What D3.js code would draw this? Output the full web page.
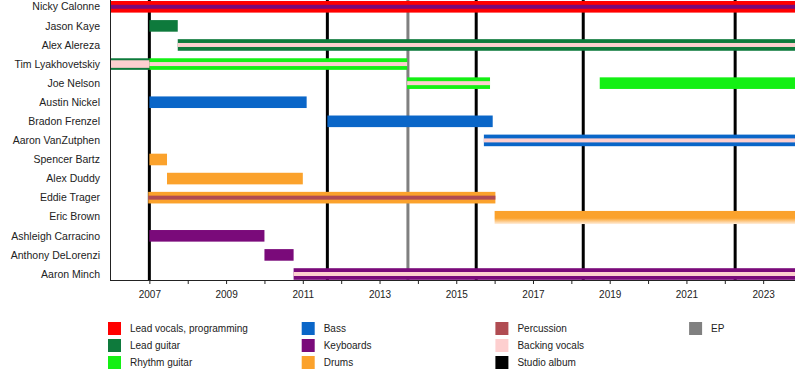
<!DOCTYPE html>
<html>
<head>
<meta charset="utf-8">
<script src="https://cdn.jsdelivr.net/npm/d3@7"></script>
<style>
  body { margin: 0; background: #fff; }
  svg text { font-family: "Liberation Sans", Arial, sans-serif; font-size: 10px; fill: #222; }
  svg .member { font-size: 10.5px; }
</style>
</head>
<body>
<svg id="timeline" width="800" height="390"></svg>
<script>
// members, top to bottom
const members = ["Nicky Calonne", "Jason Kaye", "Alex Alereza", "Tim Lyakhovetskiy", "Joe Nelson",
  "Austin Nickel", "Bradon Frenzel", "Aaron VanZutphen", "Spencer Bartz", "Alex Duddy",
  "Eddie Trager", "Eric Brown", "Ashleigh Carracino", "Anthony DeLorenzi", "Aaron Minch"];

const roles = ["Lead vocals, programming", "Lead guitar", "Rhythm guitar", "Bass", "Keyboards",
  "Drums", "Percussion", "Backing vocals", "Studio album", "EP"];
const roleColors = ["#ff0000", "#0e7a3c", "#14f014", "#0a66c8", "#7a0a7a",
  "#fba22c", "#b04c52", "#fdcfcf", "#000000", "#808080"];

const startYear = 2006, endYear = 2023.83;

// main bars: [member, role, from, to]
const mainBars = [
  ["Nicky Calonne", "Lead vocals, programming", 2006, 2023.83],
  ["Jason Kaye", "Lead guitar", 2007.0, 2007.74],
  ["Alex Alereza", "Lead guitar", 2007.74, 2023.83],
  ["Tim Lyakhovetskiy", "Lead guitar", 2006, 2007.0],
  ["Tim Lyakhovetskiy", "Rhythm guitar", 2007.0, 2013.72],
  ["Joe Nelson", "Rhythm guitar", 2013.72, 2015.88],
  ["Joe Nelson", "Rhythm guitar", 2018.74, 2023.83],
  ["Austin Nickel", "Bass", 2007.0, 2011.1],
  ["Bradon Frenzel", "Bass", 2011.64, 2015.95],
  ["Aaron VanZutphen", "Bass", 2015.72, 2023.83],
  ["Spencer Bartz", "Drums", 2007.0, 2007.46],
  ["Alex Duddy", "Drums", 2007.46, 2011.0],
  ["Eddie Trager", "Drums", 2006.97, 2016.02],
  ["Eric Brown", "Drums", 2016.0, 2023.83],
  ["Ashleigh Carracino", "Keyboards", 2007.0, 2010.0],
  ["Anthony DeLorenzi", "Keyboards", 2010.0, 2010.76],
  ["Aaron Minch", "Keyboards", 2010.76, 2023.83]
];

// secondary roles drawn as a stripe inside the bar
const stripeBars = [
  ["Nicky Calonne", "Keyboards", 2006, 2023.83],
  ["Alex Alereza", "Backing vocals", 2007.74, 2023.83],
  ["Tim Lyakhovetskiy", "Backing vocals", 2007.0, 2013.72],
  ["Joe Nelson", "Backing vocals", 2013.72, 2015.88],
  ["Aaron VanZutphen", "Backing vocals", 2015.72, 2023.83],
  ["Eddie Trager", "Percussion", 2006.97, 2016.02],
  ["Aaron Minch", "Backing vocals", 2010.76, 2023.83]
];

// secondary roles drawn filling most of the bar
const wideStripeBars = [
  ["Tim Lyakhovetskiy", "Backing vocals", 2006, 2007.0]
];

const studioAlbums = [2007.0, 2011.64, 2015.52, 2018.31, 2022.27];
const eps = [2013.74];

const tickYears = d3.range(2007, 2024);
const labelYears = [2007, 2009, 2011, 2013, 2015, 2017, 2019, 2021, 2023];

// ---- layout ----
const plot = { left: 111, right: 795, top: 0, bottom: 280 };
const barH = 11.6;

const svg = d3.select("#timeline");
const color = d3.scaleOrdinal().domain(roles).range(roleColors);

const x = d3.scaleLinear()
  .domain([startYear, endYear])
  .range([plot.left, plot.right]);

const y = d3.scalePoint()
  .domain(members)
  .range([6.8, 274]);

const defs = svg.append("defs");
const fade = defs.append("linearGradient")
  .attr("id", "fade").attr("x1", 0).attr("x2", 0).attr("y1", 0).attr("y2", 1);
fade.append("stop").attr("offset", "0.55").attr("stop-color", color("Drums"));
fade.append("stop").attr("offset", "1").attr("stop-color", "#ffeedd");

// release lines (behind bars)
svg.append("g").selectAll("line")
  .data(studioAlbums.map(v => ["Studio album", v]).concat(eps.map(v => ["EP", v])))
  .join("line")
  .attr("x1", d => x(d[1]))
  .attr("x2", d => x(d[1]))
  .attr("y1", plot.top)
  .attr("y2", plot.bottom)
  .attr("stroke", d => color(d[0]))
  .attr("stroke-width", 3);

// main bars
svg.append("g").selectAll("rect")
  .data(mainBars)
  .join("rect")
  .attr("x", d => x(d[2]))
  .attr("width", d => x(d[3]) - x(d[2]))
  .attr("y", d => y(d[0]) - barH / 2)
  .attr("height", d => d[0] === "Eric Brown" ? barH + 1.5 : barH)
  .attr("fill", d => d[0] === "Eric Brown" ? "url(#fade)" : color(d[1]));

svg.append("g").selectAll("rect")
  .data(wideStripeBars)
  .join("rect")
  .attr("x", d => x(d[2]))
  .attr("width", d => x(d[3]) - x(d[2]))
  .attr("y", d => y(d[0]) - barH / 2 + 2)
  .attr("height", barH - 4)
  .attr("fill", d => color(d[1]));

svg.append("g").selectAll("rect")
  .data(stripeBars)
  .join("rect")
  .attr("x", d => x(d[2]))
  .attr("width", d => x(d[3]) - x(d[2]))
  .attr("y", d => y(d[0]) - 2)
  .attr("height", 4)
  .attr("fill", d => color(d[1]));

// y axis line + member names
svg.append("line")
  .attr("x1", plot.left - 0.5).attr("x2", plot.left - 0.5)
  .attr("y1", plot.top).attr("y2", plot.bottom)
  .attr("stroke", "#222");

svg.append("g").selectAll("text")
  .data(members)
  .join("text")
  .attr("class", "member")
  .attr("x", 100)
  .attr("y", d => y(d))
  .attr("dy", "0.35em")
  .attr("text-anchor", "end")
  .text(d => d);

// x axis
const xAxis = d3.axisBottom(x)
  .tickValues(tickYears)
  .tickSize(4)
  .tickFormat(d => labelYears.includes(d) ? d : "");

const gx = svg.append("g")
  .attr("transform", `translate(0,${plot.bottom})`)
  .call(xAxis);
gx.select(".domain").attr("d", `M${plot.left - 1},0.5H${plot.right}`).attr("stroke", "#222");
gx.selectAll(".tick line").attr("stroke", "#222");
gx.selectAll(".tick text")
  .attr("y", 11)
  .style("font-family", "\"Liberation Sans\", Arial, sans-serif")
  .style("font-size", "10px")
  .attr("fill", "#222");

// legend: columns of three
const legend = svg.append("g");
const legendItems = legend.selectAll("g")
  .data(roles)
  .join("g")
  .attr("transform", (d, i) => `translate(${108 + Math.floor(i / 3) * 193.7},${322 + (i % 3) * 17})`);

legendItems.append("rect")
  .attr("width", 13)
  .attr("height", 13)
  .attr("fill", d => color(d));

legendItems.append("text")
  .attr("x", 22)
  .attr("y", 6.5)
  .attr("dy", "0.35em")
  .text(d => d);
</script>
</body>
</html>
